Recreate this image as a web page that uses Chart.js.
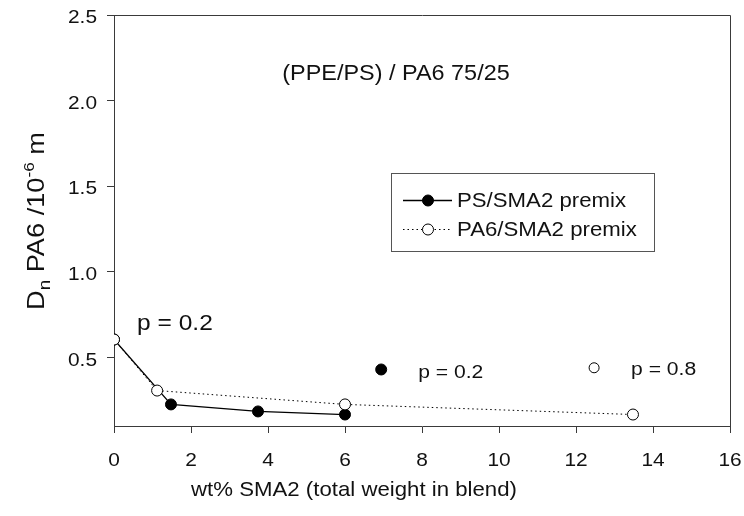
<!DOCTYPE html>
<html>
<head>
<meta charset="utf-8">
<script src="https://cdn.jsdelivr.net/npm/chart.js@4.4.0/dist/chart.umd.min.js"></script>
<style>
  html, body { margin: 0; padding: 0; background: #fff; }
  #wrap { width: 744px; height: 516px; }
</style>
</head>
<body>
<div id="wrap"><canvas id="dnChart" width="744" height="516"></canvas></div>
<script>
// PA6 particle size vs. SMA2 content, two premix routes
const psPremixX = [0, 1.48, 3.74, 6.0];
const psPremixY = [0.605, 0.226, 0.185, 0.167];
const pa6PremixX = [0, 1.12, 6.0, 13.48];
const pa6PremixY = [0.605, 0.307, 0.226, 0.167];
const psSingleX = [6.94];
const psSingleY = [0.43];
const pa6SingleX = [12.47];
const pa6SingleY = [0.44];

const xTicks = [0, 2, 4, 6, 8, 10, 12, 14, 16];
const xTickLabels = ["0", "2", "4", "6", "8", "10", "12", "14", "16"];
const yTicks = [0.5, 1.0, 1.5, 2.0, 2.5];
const yTickLabels = ["0.5", "1.0", "1.5", "2.0", "2.5"];

const noteText = ["p = 0.2", "p = 0.2", "p = 0.8"];
const noteX = [0.6, 7.9, 13.43];
const noteY = [0.663, 0.383, 0.395];
const noteSize = [22.3, 19.2, 19.2];

const FONT = '"Liberation Sans", Arial, sans-serif';
const SX = 1.1; // glyphs in this figure are a bit wide
const AXIS = "#3a3a3a";

function toPts(xs, ys) {
  return xs.map((x, i) => ({ x: x, y: ys[i] }));
}

function wideText(ctx, str, x, y, size, align) {
  ctx.save();
  ctx.font = size + "px " + FONT;
  ctx.translate(x, y);
  ctx.scale(SX, 1);
  ctx.textAlign = align;
  ctx.textBaseline = "alphabetic";
  ctx.fillText(str, 0, 0);
  ctx.restore();
}

function drawYTitle(ctx) {
  const big = 24.5, sub = 17, sup = 15.5;
  const parts = [
    { t: "D", s: big, dy: 0 },
    { t: "n", s: sub, dy: 6 },
    { t: " PA6 /10", s: big, dy: 0 },
    { t: "-6", s: sup, dy: -10 },
    { t: " m", s: big, dy: 0 }
  ];
  let total = 0;
  parts.forEach(p => {
    ctx.font = p.s + "px " + FONT;
    p.w = ctx.measureText(p.t).width;
    total += p.w;
  });
  const sx = 178 / total;
  ctx.save();
  ctx.translate(44, 221);
  ctx.rotate(-Math.PI / 2);
  ctx.scale(sx, 1);
  ctx.fillStyle = "#111";
  ctx.textBaseline = "alphabetic";
  ctx.textAlign = "left";
  let cx = -total / 2;
  parts.forEach(p => {
    ctx.font = p.s + "px " + FONT;
    ctx.fillText(p.t, cx, p.dy);
    cx += p.w;
  });
  ctx.restore();
}

function drawMarker(ctx, x, y, filled) {
  ctx.beginPath();
  ctx.arc(x, y, 5.5, 0, Math.PI * 2);
  ctx.fillStyle = filled ? "#000" : "#fff";
  ctx.fill();
  ctx.lineWidth = 1;
  ctx.strokeStyle = "#000";
  ctx.stroke();
}

// frame, tick labels, titles, notes and legend
const decorPlugin = {
  id: "decor",
  afterDraw(chart) {
    const ctx = chart.ctx;
    const a = chart.chartArea;
    const xs = chart.scales.x, ys = chart.scales.y;

    ctx.save();
    ctx.strokeStyle = AXIS;
    ctx.lineWidth = 1;
    ctx.beginPath();
    ctx.moveTo(Math.round(a.left) + 0.5, Math.round(a.top) + 0.5);
    ctx.lineTo(Math.round(a.right) + 0.5, Math.round(a.top) + 0.5);
    ctx.lineTo(Math.round(a.right) + 0.5, Math.round(a.bottom) + 0.5);
    ctx.stroke();

    ctx.fillStyle = "#111";
    xTicks.forEach((v, i) => {
      wideText(ctx, xTickLabels[i], xs.getPixelForValue(v), a.bottom + 40, 19, "center");
    });
    yTicks.forEach((v, i) => {
      wideText(ctx, yTickLabels[i], a.left - 17, ys.getPixelForValue(v) + 8, 19, "right");
    });

    wideText(ctx, "wt% SMA2 (total weight in blend)", 354, 496, 20.2, "center");
    drawYTitle(ctx);
    ctx.fillStyle = "#111";
    wideText(ctx, "(PPE/PS) / PA6 75/25", 396, 80, 21.3, "center");

    noteText.forEach((t, i) => {
      wideText(ctx, t, xs.getPixelForValue(noteX[i]), ys.getPixelForValue(noteY[i]), noteSize[i], "left");
    });

    // legend box
    ctx.strokeStyle = "#555";
    ctx.lineWidth = 1;
    ctx.strokeRect(391.5, 173.5, 263, 78);
    const rows = [
      { label: "PS/SMA2 premix", filled: true, dash: [], y: 200 },
      { label: "PA6/SMA2 premix", filled: false, dash: [1.5, 3], y: 229 }
    ];
    rows.forEach(r => {
      ctx.beginPath();
      ctx.setLineDash(r.dash);
      ctx.strokeStyle = "#000";
      ctx.lineWidth = r.dash.length ? 1 : 1.3;
      ctx.moveTo(403, r.y + 0.5);
      ctx.lineTo(452, r.y + 0.5);
      ctx.stroke();
      ctx.setLineDash([]);
      drawMarker(ctx, 428, r.y + 0.5, r.filled);
      ctx.fillStyle = "#111";
      wideText(ctx, r.label, 457, r.y + 7, 20.2, "left");
    });
    ctx.restore();
  }
};

new Chart(document.getElementById("dnChart"), {
  type: "scatter",
  data: {
    datasets: [
      {
        label: "PA6/SMA2 premix",
        data: toPts(pa6PremixX, pa6PremixY),
        showLine: true,
        borderColor: "#000",
        borderWidth: 1,
        borderDash: [1.5, 3],
        pointRadius: 5.5,
        pointBackgroundColor: "#fff",
        pointBorderColor: "#000",
        pointBorderWidth: 1
      },
      {
        label: "PS/SMA2 premix",
        data: toPts(psPremixX, psPremixY),
        showLine: true,
        borderColor: "#000",
        borderWidth: 1.3,
        pointRadius: 5.5,
        pointBackgroundColor: "#000",
        pointBorderColor: "#000",
        pointBorderWidth: 1
      },
      {
        label: "PS p = 0.2",
        data: toPts(psSingleX, psSingleY),
        showLine: false,
        pointRadius: 5.5,
        pointBackgroundColor: "#000",
        pointBorderColor: "#000"
      },
      {
        label: "PA6 p = 0.8",
        data: toPts(pa6SingleX, pa6SingleY),
        showLine: false,
        pointRadius: 5,
        pointBackgroundColor: "#fff",
        pointBorderColor: "#000",
        pointBorderWidth: 1
      }
    ]
  },
  options: {
    responsive: false,
    animation: false,
    layout: { padding: { top: 15, right: 14, left: 0, bottom: 0 } },
    plugins: {
      legend: { display: false },
      tooltip: { enabled: false }
    },
    scales: {
      x: {
        type: "linear",
        min: 0,
        max: 16,
        afterBuildTicks: s => { s.ticks = xTicks.map(v => ({ value: v })); },
        afterFit: s => { s.height = 90; },
        grid: { drawOnChartArea: false, tickLength: 7, color: AXIS },
        border: { color: AXIS, width: 1 },
        ticks: { display: false }
      },
      y: {
        type: "linear",
        min: 0.1,
        max: 2.5,
        afterBuildTicks: s => { s.ticks = yTicks.map(v => ({ value: v })); },
        afterFit: s => { s.width = 114; },
        grid: { drawOnChartArea: false, tickLength: 7, color: AXIS },
        border: { color: AXIS, width: 1 },
        ticks: { display: false }
      }
    }
  },
  plugins: [decorPlugin]
});
</script>
</body>
</html>
